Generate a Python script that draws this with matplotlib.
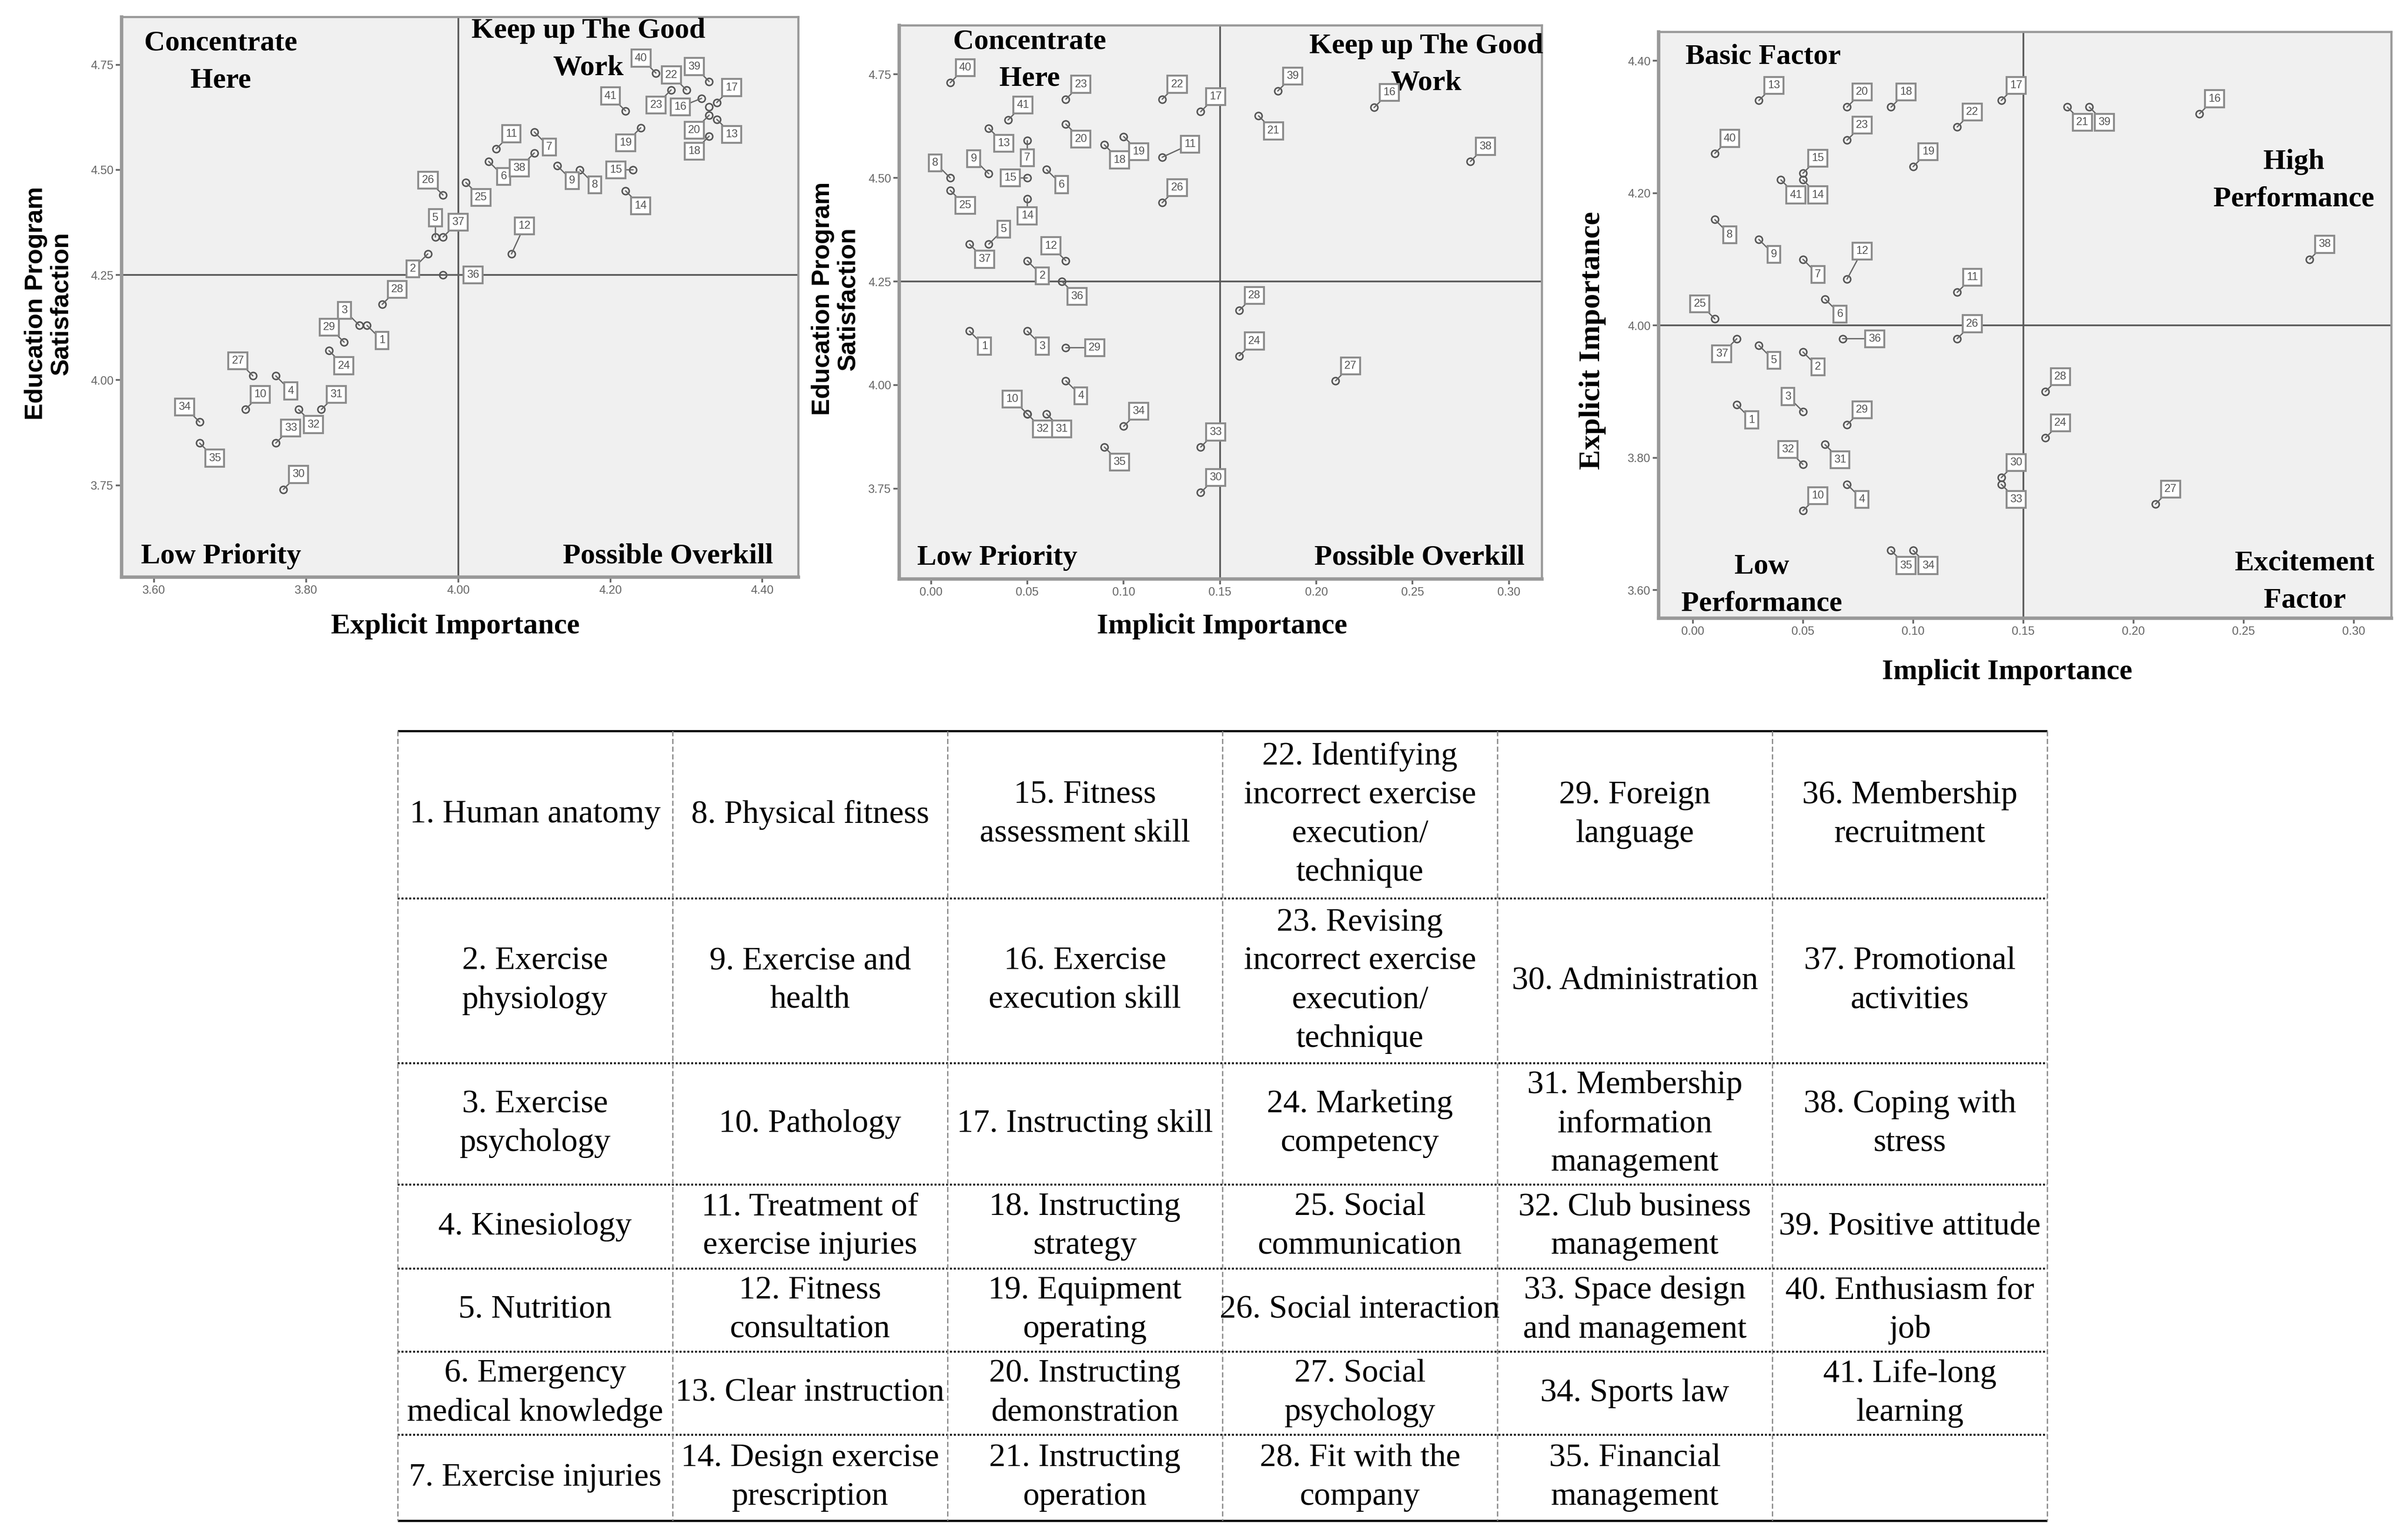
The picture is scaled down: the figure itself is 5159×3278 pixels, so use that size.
import matplotlib
matplotlib.use('Agg')
import matplotlib.pyplot as plt

W, H = 5159, 3278

# ---- data: 41 competency items ----
items = list(range(1, 42))
explicit = [3.88, 3.96, 3.87, 3.76, 3.97, 4.04, 4.10, 4.16, 4.13, 3.72,
            4.05, 4.07, 4.34, 4.22, 4.23, 4.32, 4.34, 4.33, 4.24, 4.33,
            4.33, 4.30, 4.28, 3.83, 4.01, 3.98, 3.73, 3.90, 3.85, 3.77,
            3.82, 3.79, 3.76, 3.66, 3.66, 3.98, 3.98, 4.10, 4.33, 4.26, 4.22]
implicit = [0.020, 0.050, 0.050, 0.070, 0.030, 0.060, 0.050, 0.010, 0.030, 0.050,
            0.120, 0.070, 0.030, 0.050, 0.050, 0.230, 0.140, 0.090, 0.100, 0.070,
            0.170, 0.120, 0.070, 0.160, 0.010, 0.120, 0.210, 0.160, 0.070, 0.140,
            0.060, 0.050, 0.140, 0.100, 0.090, 0.068, 0.020, 0.280, 0.180, 0.010, 0.040]
satisfaction = [4.13, 4.30, 4.13, 4.01, 4.34, 4.52, 4.59, 4.50, 4.51, 3.93,
                4.55, 4.30, 4.62, 4.45, 4.50, 4.67, 4.66, 4.58, 4.60, 4.63,
                4.65, 4.69, 4.69, 4.07, 4.47, 4.44, 4.01, 4.18, 4.09, 3.74,
                3.93, 3.93, 3.85, 3.90, 3.85, 4.25, 4.34, 4.54, 4.71, 4.73, 4.64]

item_names = [
    "1. Human anatomy", "2. Exercise\nphysiology", "3. Exercise\npsychology",
    "4. Kinesiology", "5. Nutrition", "6. Emergency\nmedical knowledge",
    "7. Exercise injuries", "8. Physical fitness", "9. Exercise and\nhealth",
    "10. Pathology", "11. Treatment of\nexercise injuries", "12. Fitness\nconsultation",
    "13. Clear instruction", "14. Design exercise\nprescription",
    "15. Fitness\nassessment skill", "16. Exercise\nexecution skill",
    "17. Instructing skill", "18. Instructing\nstrategy", "19. Equipment\noperating",
    "20. Instructing\ndemonstration", "21. Instructing\noperation",
    "22. Identifying\nincorrect exercise\nexecution/\ntechnique",
    "23. Revising\nincorrect exercise\nexecution/\ntechnique",
    "24. Marketing\ncompetency", "25. Social\ncommunication", "26. Social interaction",
    "27. Social\npsychology", "28. Fit with the\ncompany", "29. Foreign\nlanguage",
    "30. Administration", "31. Membership\ninformation\nmanagement",
    "32. Club business\nmanagement", "33. Space design\nand management",
    "34. Sports law", "35. Financial\nmanagement", "36. Membership\nrecruitment",
    "37. Promotional\nactivities", "38. Coping with\nstress", "39. Positive attitude",
    "40. Enthusiasm for\njob", "41. Life-long\nlearning",
]

sat_ticks = [3.75, 4.00, 4.25, 4.50, 4.75]
exp_ticks = [3.60, 3.80, 4.00, 4.20, 4.40]
imp_ticks = [0.00, 0.05, 0.10, 0.15, 0.20, 0.25, 0.30]

# label box directions (offset in points) for every chart
OFF = {'ur': (7, 7), 'ul': (-7, 7), 'dr': (7, -7), 'dl': (-7, -7),
       'u': (0, 9), 'd': (0, -8), 'l': (-8, 0)}

dirs1 = {1: 'dr', 2: 'dl', 3: 'ul', 4: 'dr', 5: 'u', 6: 'dr', 7: 'dr', 8: 'dr', 9: 'dr',
         10: 'ur', 11: 'ur', 12: (6, 13), 13: 'dr', 14: 'dr', 15: 'l', 16: (-10, -4),
         17: 'ur', 18: 'dl', 19: 'dl', 20: 'dl', 21: None, 22: 'ul', 23: 'dl', 24: 'dr',
         25: 'dr', 26: 'ul', 27: 'ul', 28: 'ur', 29: 'ul', 30: 'ur', 31: 'ur', 32: 'dr',
         33: 'ur', 34: 'ul', 35: 'dr', 36: (14, 0), 37: 'ur', 38: 'dl', 39: 'ul',
         40: 'ul', 41: 'ul'}
dirs2 = {1: 'dr', 2: 'dr', 3: 'dr', 4: 'dr', 5: 'ur', 6: 'dr', 7: 'd', 8: 'ul', 9: 'ul',
         10: 'ul', 11: (13, 6), 12: 'ul', 13: 'dr', 14: 'd', 15: 'l', 16: 'ur', 17: 'ur',
         18: 'dr', 19: 'dr', 20: 'dr', 21: 'dr', 22: 'ur', 23: 'ur', 24: 'ur', 25: 'dr',
         26: 'ur', 27: 'ur', 28: 'ur', 29: (13.5, 0), 30: 'ur', 31: 'dr', 32: 'dr',
         33: 'ur', 34: 'ur', 35: 'dr', 36: 'dr', 37: 'dr', 38: 'ur', 39: 'ur', 40: 'ur',
         41: 'ur'}
dirs3 = {1: 'dr', 2: 'dr', 3: 'ul', 4: 'dr', 5: 'dr', 6: 'dr', 7: 'dr', 8: 'dr', 9: 'dr',
         10: 'ur', 11: 'ur', 12: (7, 13), 13: 'ur', 14: 'dr', 15: 'ur', 16: 'ur', 17: 'ur',
         18: 'ur', 19: 'ur', 20: 'ur', 21: 'dr', 22: 'ur', 23: 'ur', 24: 'ur', 25: 'ul',
         26: 'ur', 27: 'ur', 28: 'ur', 29: 'ur', 30: 'ur', 31: 'dr', 32: 'ul', 33: 'dr',
         34: 'dr', 35: 'dr', 36: (15, 0), 37: 'dl', 38: 'ur', 39: 'dr', 40: 'ur', 41: 'dr'}

SERIF = 'Liberation Serif'
SANS = 'Liberation Sans'

fig = plt.figure(figsize=(15.5862, 9.9037), dpi=331)
fig.patch.set_facecolor('white')


def place(x0, y0, x1, y1):
    return fig.add_axes([x0 / W, 1 - y1 / H, (x1 - x0) / W, (y1 - y0) / H])


def ftext(x, y, s, **kw):
    fig.text(x / W, 1 - y / H, s, **kw)


def panel(ax, xs, ys, dirs, xticks, xfmt, yticks, yfmt, xlim, ylim, vx, hy):
    ax.set_facecolor('#f0f0f0')
    ax.set_xlim(*xlim)
    ax.set_ylim(*ylim)
    ax.axvline(vx, color='#595959', lw=0.8, zorder=1)
    ax.axhline(hy, color='#595959', lw=0.8, zorder=1)
    ax.plot(xs, ys, 'o', ms=3.3, mfc='none', mec='#555555', mew=0.7, zorder=4)
    for k, x, y in zip(items, xs, ys):
        d = dirs.get(k, 'ur')
        if d is None:
            continue
        off = OFF[d] if isinstance(d, str) else d
        ax.annotate(str(k), xy=(x, y), xytext=off, textcoords='offset points',
                    ha='center', va='center', fontsize=5.2, color='#555555',
                    fontfamily=SANS, zorder=5,
                    bbox=dict(boxstyle='square,pad=0.3', fc='white', ec='#8c8c8c', lw=0.9),
                    arrowprops=dict(arrowstyle='-', color='#666666', lw=0.6,
                                    shrinkA=0, shrinkB=0))
    ax.set_xticks(xticks)
    ax.set_xticklabels([xfmt % t for t in xticks])
    ax.set_yticks(yticks)
    ax.set_yticklabels([yfmt % t for t in yticks])
    ax.tick_params(direction='out', length=2.6, width=0.8, color='#666666',
                   labelsize=5.5, labelcolor='#666666', pad=1)
    for lab in ax.get_xticklabels() + ax.get_yticklabels():
        lab.set_fontfamily(SANS)
    for side in ['left', 'bottom']:
        ax.spines[side].set_color('#999999')
        ax.spines[side].set_linewidth(1.6)
    for side in ['top', 'right']:
        ax.spines[side].set_color('#999999')
        ax.spines[side].set_linewidth(1.0)


q = dict(fontfamily=SERIF, fontweight='bold', fontsize=13.5, ha='center', linespacing=1.55)

# ---- chart 1: explicit importance vs satisfaction ----
ax1 = place(260, 36, 1710, 1236)
panel(ax1, explicit, satisfaction, dirs1, exp_ticks, '%.2f', sat_ticks, '%.2f',
      (3.557, 4.447), (3.532, 4.864), 4.00, 4.25)
ax1.text(0.147, 0.976, 'Concentrate\nHere', va='top', transform=ax1.transAxes, **q)
ax1.text(0.69, 0.998, 'Keep up The Good\nWork', va='top', transform=ax1.transAxes, **q)
ax1.text(0.147, 0.024, 'Low Priority', va='baseline', transform=ax1.transAxes, **q)
ax1.text(0.808, 0.024, 'Possible Overkill', va='baseline', transform=ax1.transAxes, **q)

# ---- chart 2: implicit importance vs satisfaction ----
ax2 = place(1926, 54, 3303, 1240)
panel(ax2, implicit, satisfaction, dirs2, imp_ticks, '%.2f', sat_ticks, '%.2f',
      (-0.0166, 0.317), (3.532, 4.869), 0.15, 4.25)
ax2.text(0.203, 0.994, 'Concentrate\nHere', va='top', transform=ax2.transAxes, **q)
ax2.text(0.82, 0.986, 'Keep up The Good\nWork', va='top', transform=ax2.transAxes, **q)
ax2.text(0.153, 0.025, 'Low Priority', va='baseline', transform=ax2.transAxes, **q)
ax2.text(0.81, 0.025, 'Possible Overkill', va='baseline', transform=ax2.transAxes, **q)

# ---- chart 3: implicit vs explicit importance ----
ax3 = place(3553, 68, 5123, 1324)
panel(ax3, implicit, explicit, dirs3, imp_ticks, '%.2f', exp_ticks, '%.2f',
      (-0.0156, 0.317), (3.558, 4.444), 0.15, 4.00)
ax3.text(0.143, 0.98, 'Basic Factor', va='top', transform=ax3.transAxes, **q)
ax3.text(0.867, 0.80, 'High\nPerformance', va='top', transform=ax3.transAxes, **q)
ax3.text(0.141, 0.012, 'Low\nPerformance', va='baseline', transform=ax3.transAxes, **q)
ax3.text(0.882, 0.018, 'Excitement\nFactor', va='baseline', transform=ax3.transAxes, **q)

# ---- axis titles ----
xl = dict(fontfamily=SERIF, fontweight='bold', fontsize=13.5, ha='center', va='center')
ftext(975, 1342, 'Explicit Importance', **xl)
ftext(2618, 1342, 'Implicit Importance', **xl)
ftext(4300, 1440, 'Implicit Importance', **xl)
yl = dict(family=['Liberation Sans Narrow', SANS], fontweight='bold', fontsize=11.8,
          ha='center', va='center', rotation=90, linespacing=1.1)
ftext(104, 650, 'Education Program\nSatisfaction', **yl)
ftext(1790, 640, 'Education Program\nSatisfaction', **yl)
ftext(3412, 730, 'Explicit Importance', fontfamily=SERIF, fontweight='bold',
      fontsize=14, ha='center', va='center', rotation=90)

# ---- item table ----
tab = fig.add_axes([0, 0, 1, 1], zorder=-1)
tab.set_xlim(0, W)
tab.set_ylim(H, 0)
tab.axis('off')
col_edges = [852 + 589 * i for i in range(7)]
row_edges = [1566, 1925, 2278, 2538, 2718, 2896, 3074, 3258]
tab.hlines([row_edges[0], row_edges[-1]], col_edges[0], col_edges[-1],
           colors='black', lw=1.0)
tab.hlines(row_edges[1:-1], col_edges[0], col_edges[-1], colors='black', lw=0.9,
           linestyles=[(0, (1, 1))])
tab.vlines(col_edges, row_edges[0], row_edges[-1], colors='#8a8a8a', lw=0.6,
           linestyles=[(0, (4, 2))])
for k, name in zip(items, item_names):
    c, r = (k - 1) // 7, (k - 1) % 7
    cx = (col_edges[c] + col_edges[c + 1]) / 2
    cy = (row_edges[r] + row_edges[r + 1]) / 2
    tab.text(cx, cy, name, ha='center', va='center', fontsize=15.3,
             fontfamily=SERIF, color='black', linespacing=1.4)

fig.savefig('out.png', dpi=331, facecolor='white')
